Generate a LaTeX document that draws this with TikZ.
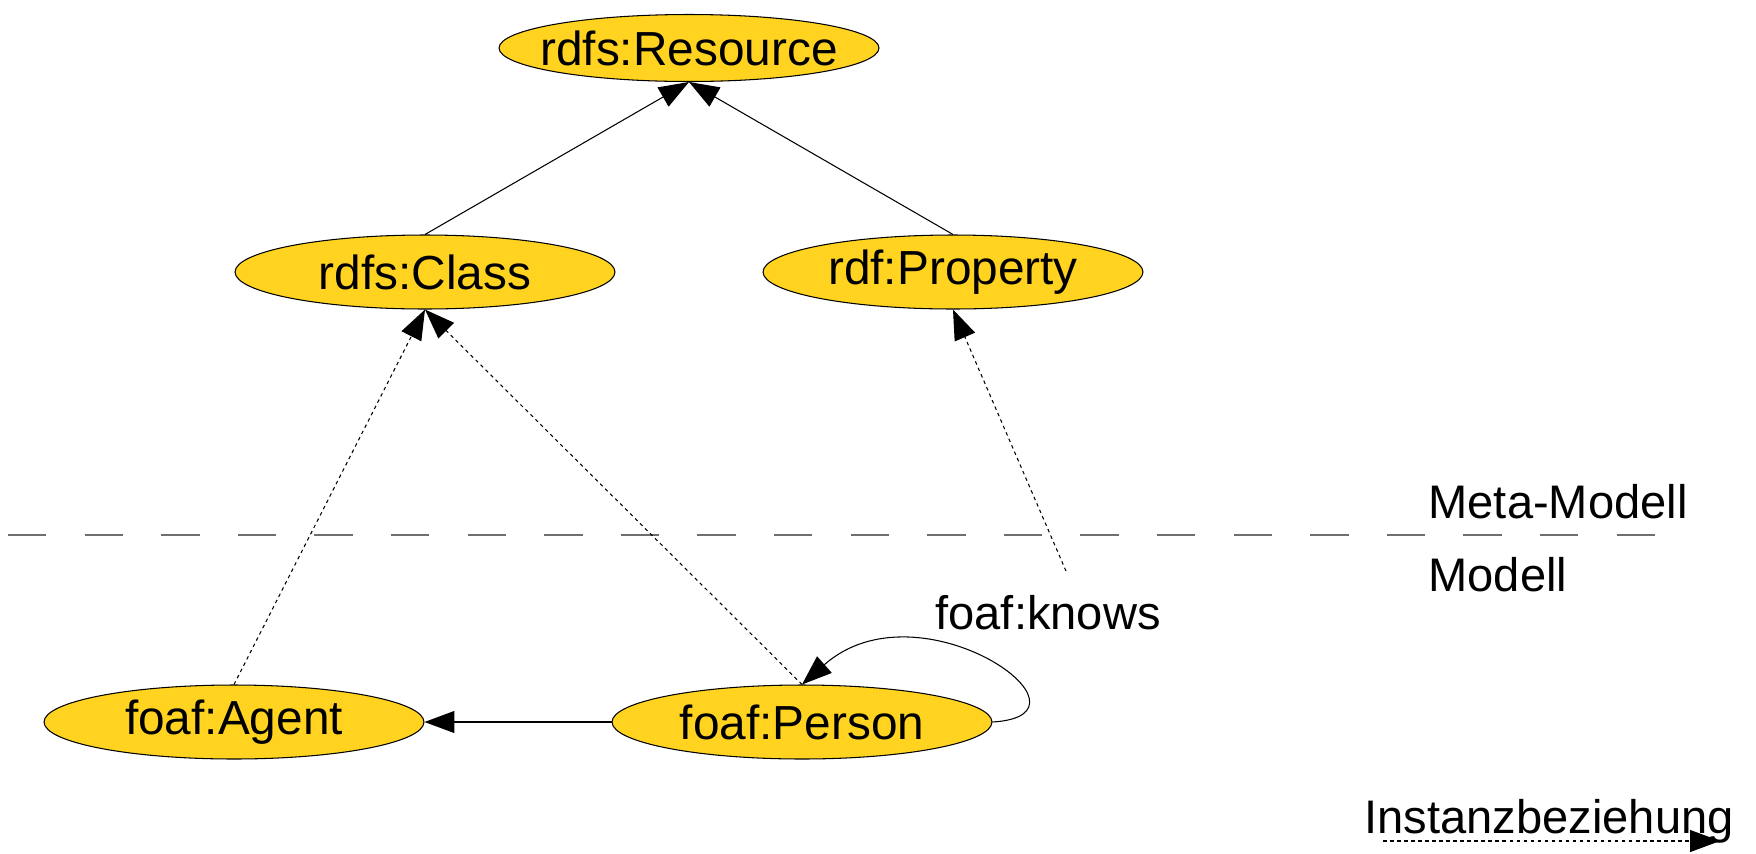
\documentclass[tikz,border=0pt]{standalone}
\usepackage{fontspec}
\setmainfont{Liberation Sans}
\usetikzlibrary{shapes,arrows.meta}
\definecolor{NodeYellow}{RGB}{255,211,32}
\definecolor{SepGray}{RGB}{110,110,110}

\begin{document}
\begin{tikzpicture}[x=0.02cm,y=-0.02cm]
		\tikzstyle{every path}=[line width=0.6pt]
		\tikzstyle{every node}=[font=\fontsize{26.8}{30}\selectfont]
		\tikzstyle{ClsSty}=[ellipse,draw,fill=NodeYellow,inner sep=0pt,
				      font=\fontsize{27.2}{30}\selectfont,
				      minimum width=7.6cm,minimum height=1.48cm]
		\tikzstyle{LblSty}=[inner sep=0pt,anchor=base west]
		\tikzstyle{SubSty}=[-{Triangle[length=0.6cm,width=0.44cm]}]
		\tikzstyle{InstSty}=[SubSty,dash pattern=on 2pt off 2pt]
		\tikzstyle{SepSty}=[color=SepGray,line width=1.2pt,
				      dash pattern=on 21.8pt off 21.8pt]

\useasboundingbox (0,0) rectangle (1756,853);

\node[ClsSty,minimum height=1.34cm,inner xsep=-0.3cm] at (689,48) (resource) {rdfs:Resource};
\node[ClsSty] at (425,272) (rdfs_class) {rdfs:Class};
\node[ClsSty] at (953,272) (property) {rdf:Property};
\node[ClsSty] at (234,722) (agent) {foaf:Agent};
\node[ClsSty] at (802,722) (person) {foaf:Person};

\node[LblSty] at (1428,518) (meta_lbl) {Meta-Modell};
\node[LblSty] at (1428,591) (model_lbl) {Modell};
\node[LblSty] at (935,629) (knows) {foaf:knows};
\node[LblSty] at (1364,833) (legend_lbl) {Instanzbeziehung};

\coordinate (knows_top) at (1066,571);
\coordinate (sep_a) at (8,535);
\coordinate (sep_b) at (1656,535);
\coordinate (legend_a) at (1383,841);
\coordinate (legend_b) at (1720,841);

% separator between the two layers
\draw[SepSty] (sep_a) -- (sep_b);

% subclass edges
\draw[SubSty] (rdfs_class.north) -- (resource.south);
\draw[SubSty] (property.north) -- (resource.south);
\draw[SubSty] (person.west) -- (agent.east);
\draw[SubSty] (person.east) .. controls (1110,715) and (920,580) .. (person.north);

% instance edges
\draw[InstSty] (agent.north) -- (rdfs_class.south);
\draw[InstSty] (person.north) -- (rdfs_class.south);
\draw[InstSty] (knows_top) -- (property.south);
\draw[InstSty] (legend_a) -- (legend_b);

\end{tikzpicture}
\end{document}
